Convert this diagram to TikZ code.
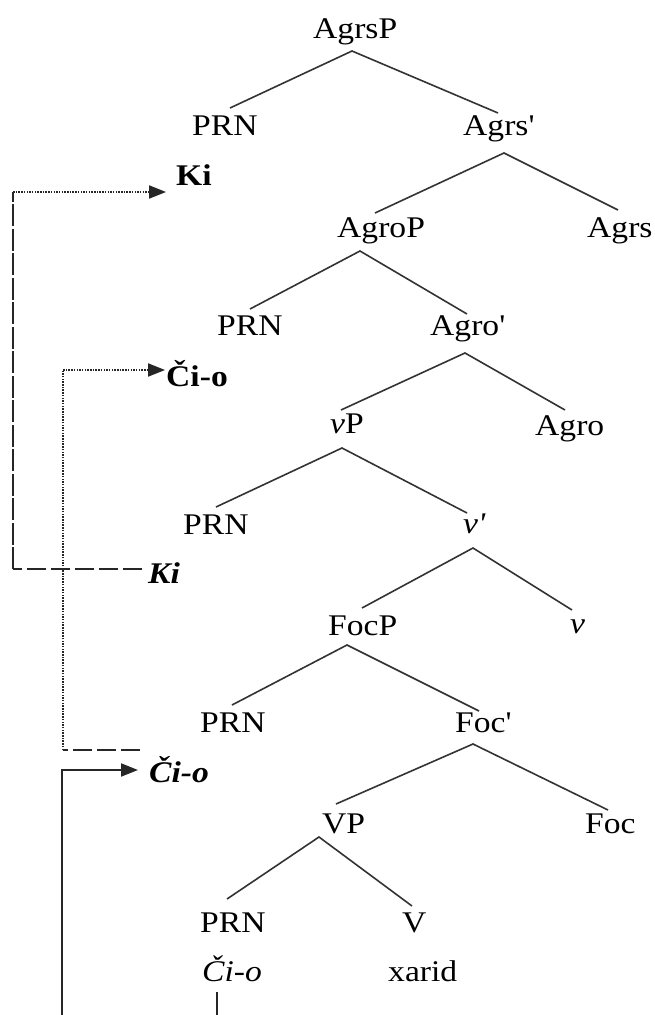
\documentclass[tikz,border=0pt]{standalone}
\usepackage{fontspec}
\setmainfont{Liberation Serif}
\usetikzlibrary{calc,arrows.meta}
\begin{document}
\begin{tikzpicture}[x=1pt,y=1pt,
  lab/.style={inner sep=0pt,anchor=base west,xscale=1.12,
              font=\fontsize{30}{36}\selectfont},
  branch/.style={line width=1.6pt,black!80},
  dotline/.style={line width=2pt,black!85,dash pattern=on 1.5pt off 1.2pt},
  dashH/.style={line width=2pt,black!85,dash pattern=on 19pt off 5pt},
  dashV/.style={line width=2pt,black!85,dash pattern=on 22pt off 2.5pt},
  solidmove/.style={line width=2pt,black!85},
  tip/.style={-{Triangle[length=17pt,width=13pt]}}]
\useasboundingbox (0,0) rectangle (654,-1015);

% tree labels
\node[lab] (agrsP)   at (313,-38)  {AgrsP};
\node[lab] (prnA)    at (192,-135) {PRN};
\node[lab] (agrsbar) at (463,-135) {Agrs\textquotesingle};
\node[lab] (kiB)     at (176,-185) {\textbf{Ki}};
\node[lab] (agroP)   at (337,-237) {AgroP};
\node[lab] (agrs)    at (587,-237) {Agrs};
\node[lab] (prnB)    at (217,-335) {PRN};
\node[lab] (agrobar) at (430,-335) {Agro\textquotesingle};
\node[lab] (cioB)    at (166,-386) {\textbf{Či-o}};
\node[lab] (vP)      at (330,-433) {\textit{v}P};
\node[lab] (agro)    at (535,-435) {Agro};
\node[lab] (prnC)    at (183,-534) {PRN};
\node[lab] (vbar)    at (463,-533) {\textit{v\textquotesingle}};
\node[lab] (kiI)     at (148,-583) {\textbf{\textit{Ki}}};
\node[lab] (focP)    at (328,-635) {FocP};
\node[lab] (vhead)   at (570,-633) {\textit{v}};
\node[lab] (prnD)    at (200,-732) {PRN};
\node[lab] (focbar)  at (455,-732) {Foc\textquotesingle};
\node[lab] (cioI)    at (149,-782) {\textbf{\textit{Či-o}}};
\node[lab] (VP)      at (322,-833) {VP};
\node[lab] (foc)     at (585,-833) {Foc};
\node[lab] (prnE)    at (200,-932) {PRN};
\node[lab] (Vhead)   at (402,-932) {V};
\node[lab] (cio)     at (202,-981) {\textit{Či-o}};
\node[lab] (xarid)   at (388,-981) {xarid};

% branch points and branch ends
\coordinate (agrsP-a)   at (352,-51);
\coordinate (prnA-t)    at (230,-108);
\coordinate (agrsbar-t) at (498,-113);
\coordinate (agrsbar-a) at (504,-153);
\coordinate (agroP-t)   at (375,-213);
\coordinate (agrs-t)    at (618,-210);
\coordinate (agroP-a)   at (360,-251);
\coordinate (prnB-t)    at (250,-309);
\coordinate (agrobar-t) at (467,-314);
\coordinate (agrobar-a) at (465,-353);
\coordinate (vP-t)      at (341,-410);
\coordinate (agro-t)    at (565,-410);
\coordinate (vP-a)      at (342,-448);
\coordinate (prnC-t)    at (216,-507);
\coordinate (vbar-t)    at (467,-513);
\coordinate (vbar-a)    at (473,-548);
\coordinate (focP-t)    at (362,-608);
\coordinate (vhead-t)   at (572,-610);
\coordinate (focP-a)    at (347,-645);
\coordinate (prnD-t)    at (232,-705);
\coordinate (focbar-t)  at (479,-711);
\coordinate (focbar-a)  at (473,-744);
\coordinate (VP-t)      at (336,-804);
\coordinate (foc-t)     at (608,-810);
\coordinate (VP-a)      at (319,-837);
\coordinate (prnE-t)    at (227,-899);
\coordinate (Vhead-t)   at (412,-906);

\draw[branch] (prnA-t) -- (agrsP-a) -- (agrsbar-t);
\draw[branch] (agroP-t) -- (agrsbar-a) -- (agrs-t);
\draw[branch] (prnB-t) -- (agroP-a) -- (agrobar-t);
\draw[branch] (vP-t) -- (agrobar-a) -- (agro-t);
\draw[branch] (prnC-t) -- (vP-a) -- (vbar-t);
\draw[branch] (focP-t) -- (vbar-a) -- (vhead-t);
\draw[branch] (prnD-t) -- (focP-a) -- (focbar-t);
\draw[branch] (VP-t) -- (focbar-a) -- (foc-t);
\draw[branch] (prnE-t) -- (VP-a) -- (Vhead-t);

% movement of Ki
\coordinate (kiLow) at (13,-569);
\coordinate (kiHigh) at (13,-192);
\draw[dashH] ($(kiI.base west)+(-6,14)$) -- (kiLow);
\draw[dashV] (kiLow) -- (kiHigh);
\draw[dotline,tip] (kiHigh) -- ($(kiB.base west)+(-10,-7)$);

% movement of Či-o to the higher position
\coordinate (cioLow) at (63,-750);
\coordinate (cioHigh) at (63,-370);
\draw[dashH] ($(cioI.base west)+(-9,32)$) -- (cioLow);
\draw[dotline] (cioLow) -- (cioHigh);
\draw[dotline,tip] (cioHigh) -- ($(cioB.base west)+(-1,16)$);

% movement of Či-o out of VP
\coordinate (traceEnd) at (217,-1015);
\coordinate (riseStart) at (62,-1015);
\draw[solidmove] ($(cio.base west)+(15,-11)$) -- (traceEnd);
\draw[solidmove,tip] (riseStart) |- ($(cioI.base west)+(-11,12)$);
\end{tikzpicture}
\end{document}
